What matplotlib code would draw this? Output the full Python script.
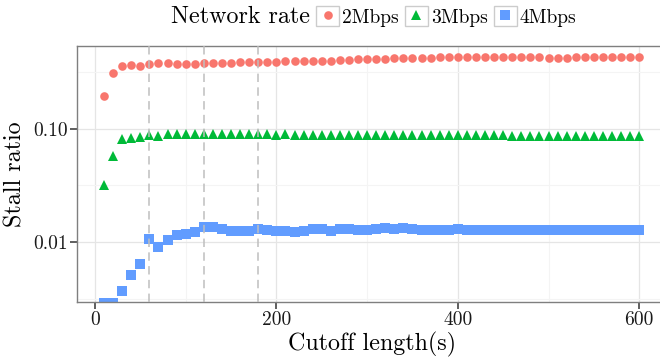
import matplotlib
matplotlib.use("Agg")
import matplotlib.pyplot as plt
from matplotlib.lines import Line2D
from matplotlib.patches import Rectangle
from matplotlib.legend_handler import HandlerLine2D
from matplotlib.ticker import FixedLocator, FixedFormatter, NullFormatter

plt.rcParams['font.family'] = ['cmr10', 'DejaVu Serif']
plt.rcParams['mathtext.fontset'] = 'cm'
plt.rcParams['axes.unicode_minus'] = False

# cutoff lengths (s)
cutoff = list(range(10, 601, 10))

stall_2mbps = [
    0.194, 0.312, 0.360, 0.362, 0.360, 0.375, 0.380, 0.380, 0.373, 0.370,
    0.375, 0.380, 0.380, 0.380, 0.380, 0.384, 0.387, 0.385, 0.385, 0.390,
    0.392, 0.392, 0.392, 0.395, 0.398, 0.398, 0.400, 0.405, 0.410, 0.412,
    0.412, 0.415, 0.420, 0.422, 0.422, 0.425, 0.425, 0.428, 0.430, 0.432,
    0.432, 0.432, 0.430, 0.432, 0.432, 0.432, 0.430, 0.432, 0.432, 0.422,
    0.420, 0.418, 0.430, 0.432, 0.432, 0.432, 0.432, 0.432, 0.432, 0.432,
]
stall_3mbps = [
    0.032, 0.058, 0.081, 0.083, 0.085, 0.088, 0.086, 0.089, 0.089, 0.089,
    0.089, 0.089, 0.089, 0.089, 0.089, 0.089, 0.089, 0.089, 0.089, 0.088,
    0.089, 0.088, 0.088, 0.088, 0.088, 0.088, 0.088, 0.088, 0.088, 0.088,
    0.088, 0.088, 0.088, 0.088, 0.088, 0.088, 0.088, 0.088, 0.088, 0.088,
    0.088, 0.088, 0.088, 0.088, 0.088, 0.087, 0.087, 0.087, 0.087, 0.087,
    0.087, 0.087, 0.087, 0.087, 0.087, 0.087, 0.087, 0.087, 0.087, 0.087,
]
stall_4mbps = [
    0.0029, 0.0029, 0.0037, 0.0051, 0.0064, 0.0106, 0.0090, 0.0105, 0.0115, 0.0118,
    0.0122, 0.0136, 0.0136, 0.0129, 0.0126, 0.0124, 0.0124, 0.0129, 0.0128, 0.0126,
    0.0124, 0.0123, 0.0124, 0.0129, 0.0129, 0.0125, 0.0129, 0.0130, 0.0127, 0.0128,
    0.0131, 0.0132, 0.0129, 0.0133, 0.0130, 0.0127, 0.0127, 0.0127, 0.0127, 0.0129,
    0.0127, 0.0127, 0.0127, 0.0127, 0.0127, 0.0127, 0.0127, 0.0127, 0.0127, 0.0127,
    0.0127, 0.0127, 0.0127, 0.0127, 0.0127, 0.0127, 0.0127, 0.0127, 0.0127, 0.0127,
]

series = [
    ("2Mbps", stall_2mbps, "#F8766D", "o", 6.2),
    ("3Mbps", stall_3mbps, "#00BA38", "^", 6.8),
    ("4Mbps", stall_4mbps, "#619CFF", "s", 6.6),
]
marked_cutoffs = [60, 120, 180]

x_major = [0, 200, 400, 600]
x_minor = [100, 300, 500]
y_major = [0.01, 0.1]
y_major_labels = ["0.01", "0.10"]
y_minor = [10 ** -2.5, 10 ** -1.5, 10 ** -0.5]

W, H = 660, 358
fig = plt.figure(figsize=(W / 100, H / 100), dpi=100)
left, right, top, bottom = 77.3, 666.0, 45.7, 301.7
ax = fig.add_axes([left / W, 1 - bottom / H, (right - left) / W, (bottom - top) / H])

for name, vals, col, mk, ms in series:
    ax.plot(cutoff, vals, linestyle='none', marker=mk, markersize=ms,
            color=col, markeredgewidth=0, label=name, zorder=2)

for c in marked_cutoffs:
    ax.axvline(c, color='#BEBEBE', lw=1.1, dashes=(5.5, 3.5), zorder=3)

ax.set_yscale('log')
ax.set_xlim(-19.5, 629.5)
ax.set_ylim(10 ** -2.527, 10 ** -0.2674)

ax.xaxis.set_major_locator(FixedLocator(x_major))
ax.xaxis.set_minor_locator(FixedLocator(x_minor))
ax.yaxis.set_major_locator(FixedLocator(y_major))
ax.yaxis.set_major_formatter(FixedFormatter(y_major_labels))
ax.yaxis.set_minor_locator(FixedLocator(y_minor))
ax.yaxis.set_minor_formatter(NullFormatter())

ax.grid(which='major', color='#E5E5E5', lw=0.9, zorder=0)
ax.grid(which='minor', color='#F4F4F4', lw=0.8, zorder=0)
ax.set_axisbelow(True)

for s in ax.spines.values():
    s.set_color('#7F7F7F')
    s.set_linewidth(1.0)

ax.tick_params(which='major', length=5, width=1.1, color='#333333',
               labelsize=14, labelcolor='#1A1A1A', pad=2)
ax.tick_params(which='minor', length=0)

ax.set_xlabel("Cutoff length(s)", fontsize=17.3, labelpad=2)
ax.set_ylabel("Stall ratio", fontsize=17.3, labelpad=5)


class BoxedKey(HandlerLine2D):
    def create_artists(self, legend, orig_handle, xdescent, ydescent,
                       width, height, fontsize, trans):
        box = Rectangle((-xdescent, -ydescent), width, height,
                        facecolor='white', edgecolor='#CCCCCC', lw=1.0,
                        transform=trans)
        arts = super().create_artists(legend, orig_handle, xdescent, ydescent,
                                      width, height, fontsize, trans)
        return [box] + arts


handles, labels = ax.get_legend_handles_labels()
leg = fig.legend(handles, labels, loc='center left', bbox_to_anchor=(316 / W, 1 - 16.5 / H),
                 ncol=3, frameon=False, fontsize=14, numpoints=1,
                 handlelength=1.2, handleheight=1.2, handletextpad=0.15,
                 columnspacing=0.3, borderpad=0, borderaxespad=0,
                 handler_map={Line2D: BoxedKey()})
fig.text(310 / W, 1 - 16.5 / H, "Network rate", fontsize=17.3,
         ha='right', va='center')

fig.savefig("out.png", dpi=100)
